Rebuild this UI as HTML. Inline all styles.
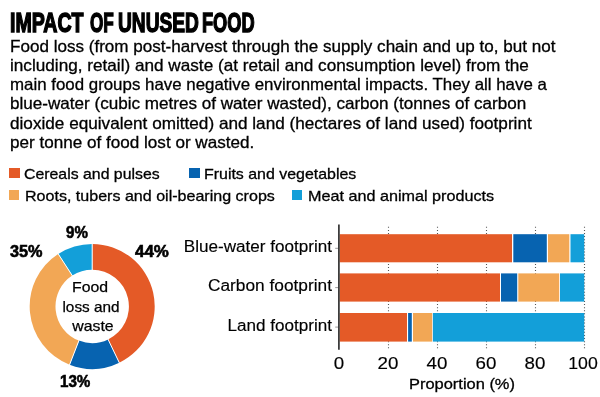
<!DOCTYPE html>
<html><head><meta charset="utf-8">
<style>
*{margin:0;padding:0;box-sizing:border-box}
html,body{width:600px;height:397px;background:#fff;overflow:hidden}
body{position:relative;font-family:"Liberation Sans",Arial,sans-serif;color:#000}
div{position:absolute;white-space:nowrap}
.t{font-size:28px;font-weight:bold;line-height:32px;transform-origin:0 0;color:#000;-webkit-text-stroke:1.5px #000}
.b{font-size:16.5px;line-height:19px;transform-origin:0 0;-webkit-text-stroke:0.3px #000}
.l{font-size:15px;line-height:16px;transform-origin:0 0;-webkit-text-stroke:0.3px #000}
.q{width:10px;height:10px}
.p{font-size:16px;font-weight:bold;line-height:16px;transform-origin:0 0;-webkit-text-stroke:0.6px #000}
.c{font-size:14.5px;line-height:16px;transform-origin:50% 0;text-align:center;width:80px;-webkit-text-stroke:0.25px #000}
.y{font-size:16px;line-height:16px;transform-origin:100% 0;text-align:right;width:160px;-webkit-text-stroke:0.15px #000}
.x{font-size:16.5px;line-height:16px;transform-origin:50% 0;text-align:center;width:40px;-webkit-text-stroke:0.15px #000}
</style></head><body>

<div class="t" style="left:10.3px;top:7px;transform:scaleX(0.699)">IMPACT</div>
<div class="t" style="left:89.5px;top:7px;transform:scaleX(0.613)">OF</div>
<div class="t" style="left:117.6px;top:7px;transform:scaleX(0.6837)">UNUSED</div>
<div class="t" style="left:202.2px;top:7px;transform:scaleX(0.65)">FOOD</div>
<div class="b" style="left:10.1px;top:36.8px;transform:scaleX(1.0343)">Food loss (from post-harvest through the supply chain and up to, but not</div>
<div class="b" style="left:10.1px;top:56.02px;transform:scaleX(1.04)">including, retail) and waste (at retail and consumption level) from the</div>
<div class="b" style="left:10.1px;top:75.24px;transform:scaleX(1.0221)">main food groups have negative environmental impacts. They all have a</div>
<div class="b" style="left:10.1px;top:94.46px;transform:scaleX(1.0347)">blue-water (cubic metres of water wasted), carbon (tonnes of carbon</div>
<div class="b" style="left:10.1px;top:113.68px;transform:scaleX(1.0399)">dioxide equivalent omitted) and land (hectares of land used) footprint</div>
<div class="b" style="left:10.1px;top:132.9px;transform:scaleX(1.0362)">per tonne of food lost or wasted.</div>
<div class="q" style="left:9.3px;top:168.3px;width:10.4px;height:10px;background:#e45a27"></div>
<div class="q" style="left:189.3px;top:168.3px;width:10.4px;height:10px;background:#0763b0"></div>
<div class="q" style="left:9.2px;top:189.9px;width:10.2px;height:10px;background:#f2a755"></div>
<div class="q" style="left:292.2px;top:189.9px;width:10.2px;height:10px;background:#139fd9"></div>
<div class="l" style="left:24px;top:165.75px;transform:scaleX(1.0565)">Cereals and pulses</div>
<div class="l" style="left:204.4px;top:165.75px;transform:scaleX(1.0621)">Fruits and vegetables</div>
<div class="l" style="left:24.9px;top:188.2px;transform:scaleX(1.0702)">Roots, tubers and oil-bearing crops</div>
<div class="l" style="left:308px;top:188.2px;transform:scaleX(1.0782)">Meat and animal products</div>
<svg width="600" height="397" style="position:absolute;left:0;top:0">
<path fill="#e45a27" d="M92.20 243.90A62.5 62.5 0 0 1 119.30 362.72L108.12 339.47A36.7 36.7 0 0 0 92.20 269.70Z"/>
<path fill="#0763b0" d="M119.30 362.72A62.5 62.5 0 0 1 69.60 364.67L78.93 340.62A36.7 36.7 0 0 0 108.12 339.47Z"/>
<path fill="#f2a755" d="M69.60 364.67A62.5 62.5 0 0 1 58.25 253.92L72.27 275.59A36.7 36.7 0 0 0 78.93 340.62Z"/>
<path fill="#139fd9" d="M58.25 253.92A62.5 62.5 0 0 1 92.20 243.90L92.20 269.70A36.7 36.7 0 0 0 72.27 275.59Z"/>
<line x1="92.20" y1="242.90" x2="92.20" y2="270.70" stroke="#fff" stroke-width="1.0"/>
<line x1="119.74" y1="363.62" x2="107.68" y2="338.57" stroke="#fff" stroke-width="1.0"/>
<line x1="69.24" y1="365.60" x2="79.29" y2="339.68" stroke="#fff" stroke-width="1.0"/>
<line x1="57.71" y1="253.08" x2="72.81" y2="276.43" stroke="#fff" stroke-width="1.0"/>
<line x1="388.5" y1="226.8" x2="388.5" y2="349.7" stroke="#555" stroke-width="1.1" stroke-dasharray="1 2.09"/>
<line x1="437.5" y1="226.8" x2="437.5" y2="349.7" stroke="#555" stroke-width="1.1" stroke-dasharray="1 2.09"/>
<line x1="486.5" y1="226.8" x2="486.5" y2="349.7" stroke="#555" stroke-width="1.1" stroke-dasharray="1 2.09"/>
<line x1="535.5" y1="226.8" x2="535.5" y2="349.7" stroke="#555" stroke-width="1.1" stroke-dasharray="1 2.09"/>
<line x1="584.5" y1="226.8" x2="584.5" y2="349.7" stroke="#555" stroke-width="1.1" stroke-dasharray="1 2.09"/>
<rect x="339.7" y="234.2" width="172.30" height="28.10" fill="#e45a27"/>
<rect x="513.3" y="234.2" width="33.50" height="28.10" fill="#0763b0"/>
<rect x="548" y="234.2" width="21.30" height="28.10" fill="#f2a755"/>
<rect x="570.5" y="234.2" width="13.70" height="28.10" fill="#139fd9"/>
<rect x="339.7" y="273.4" width="160.30" height="28.20" fill="#e45a27"/>
<rect x="501" y="273.4" width="16.20" height="28.20" fill="#0763b0"/>
<rect x="518.3" y="273.4" width="40.90" height="28.20" fill="#f2a755"/>
<rect x="560" y="273.4" width="24.20" height="28.20" fill="#139fd9"/>
<rect x="339.7" y="313" width="67.30" height="28.60" fill="#e45a27"/>
<rect x="408.1" y="313" width="3.70" height="28.60" fill="#0763b0"/>
<rect x="413" y="313" width="19.20" height="28.60" fill="#f2a755"/>
<rect x="432.9" y="313" width="151.30" height="28.60" fill="#139fd9"/>
<line x1="335.2" y1="248.3" x2="338.5" y2="248.3" stroke="#999" stroke-width="1"/>
<line x1="335.2" y1="287.6" x2="338.5" y2="287.6" stroke="#999" stroke-width="1"/>
<line x1="335.2" y1="327.1" x2="338.5" y2="327.1" stroke="#999" stroke-width="1"/>
<line x1="338.9" y1="224.4" x2="338.9" y2="349.7" stroke="#333" stroke-width="1.7"/>
</svg>
<div class="p" style="left:65.8px;top:224.8px;transform:scaleX(0.943)">9%</div>
<div class="p" style="left:10px;top:244px;transform:scaleX(1.016)">35%</div>
<div class="p" style="left:135.3px;top:244px;transform:scaleX(1.056)">44%</div>
<div class="p" style="left:60.3px;top:374px;transform:scaleX(0.948)">13%</div>
<div class="c" style="left:50.4px;top:278.6px;transform:scaleX(1.091)">Food</div>
<div class="c" style="left:51.3px;top:298.6px;transform:scaleX(1.0567)">loss and</div>
<div class="c" style="left:52.7px;top:317.6px;transform:scaleX(1.091)">waste</div>
<div class="y" style="left:171.8px;top:238.7px;transform:scaleX(1.0687)">Blue-water footprint</div>
<div class="y" style="left:171.8px;top:278px;transform:scaleX(1.081)">Carbon footprint</div>
<div class="y" style="left:171.8px;top:317.9px;transform:scaleX(1.0687)">Land footprint</div>
<div class="x" style="left:318.85px;top:354.6px;transform:scaleX(1.136)">0</div>
<div class="x" style="left:367.8px;top:354.6px;transform:scaleX(1.136)">20</div>
<div class="x" style="left:417.1px;top:354.6px;transform:scaleX(1.136)">40</div>
<div class="x" style="left:466.35px;top:354.6px;transform:scaleX(1.136)">60</div>
<div class="x" style="left:515.35px;top:354.6px;transform:scaleX(1.136)">80</div>
<div class="x" style="left:563px;top:354.6px;transform:scaleX(1.073)">100</div>
<div class="l" style="left:409px;top:376px;transform:scaleX(1.0955)">Proportion (%)</div>
</body></html>
